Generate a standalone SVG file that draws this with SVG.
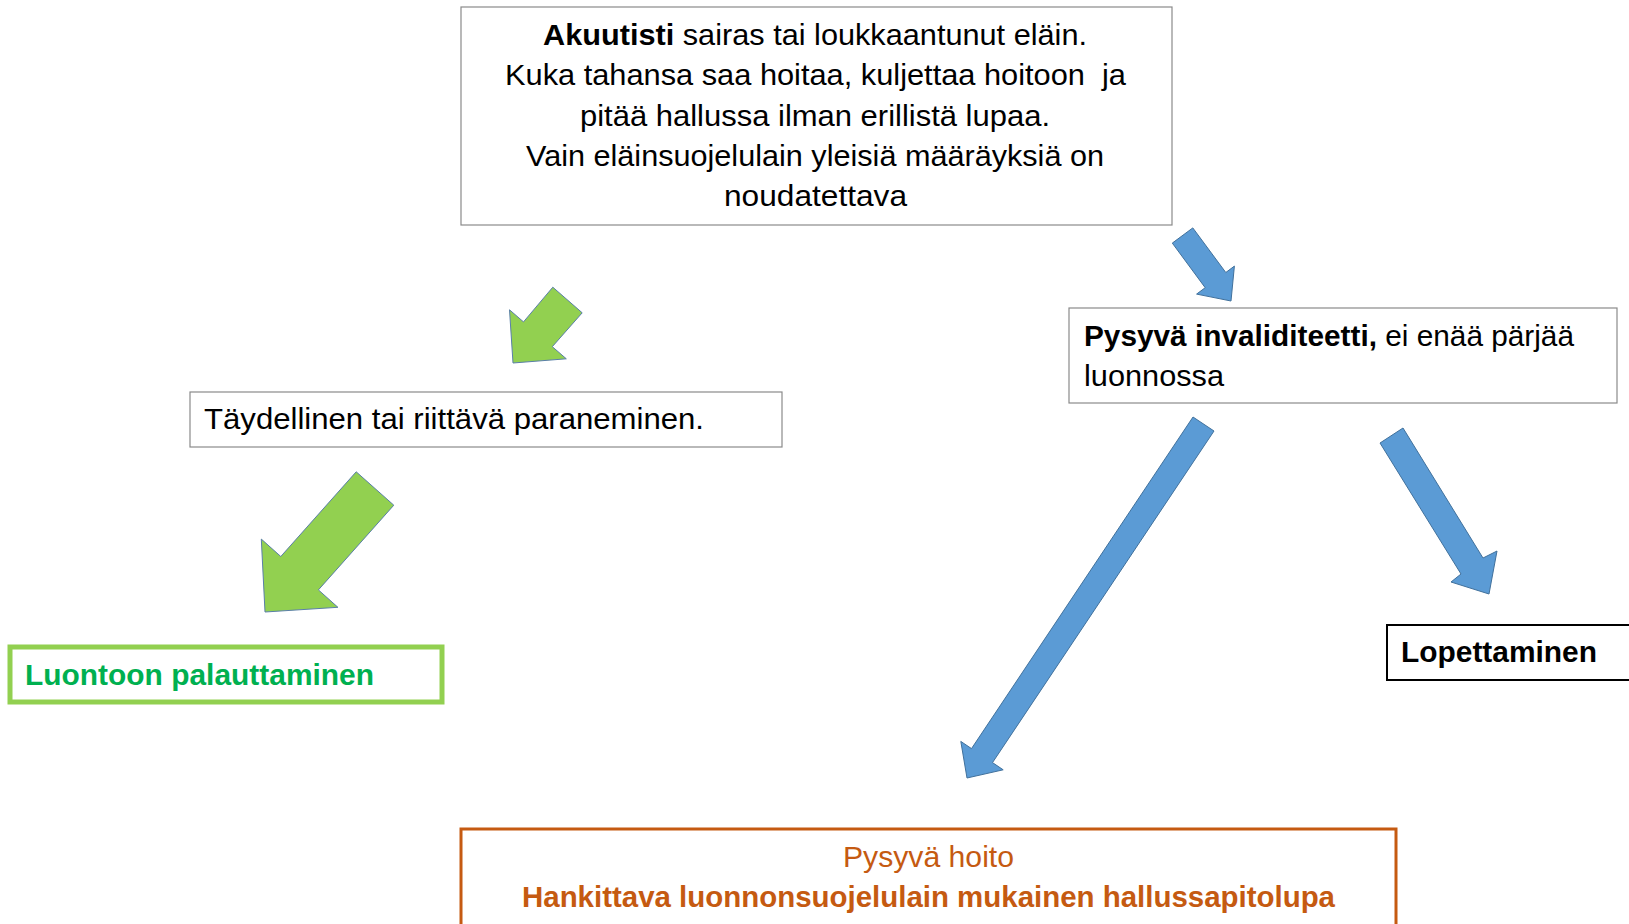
<svg xmlns="http://www.w3.org/2000/svg" width="1629" height="924" viewBox="0 0 1629 924">
<style>
text{font-family:"Liberation Sans",Arial,sans-serif;fill:#000}
.b{font-weight:bold}
.box{fill:#fff;stroke:#8a8a8a;stroke-width:1.2}
.blue{fill:#5B9BD5;stroke:#41719C;stroke-width:1}
.green{fill:#92D050;stroke:#5a7fa8;stroke-width:1}
</style>
<rect width="1629" height="924" fill="#fff"/>
<g id="connectors">
<polygon class="green" points="552.8,287.2 582.2,312.8 552.3,346.7 566.3,358.8 513,363 509.5,309.8 523.5,321.9"/>
<polygon class="green" points="356.2,471.8 393.8,505.2 318.4,589.9 337.9,607.3 265,612 261.3,539.1 280.8,556.5"/>
<polygon class="blue" points="1172.3,243.1 1192.8,227.9 1225.8,272.5 1234.4,266.1 1231,301 1196.6,294.1 1205.2,287.7"/>
<polygon class="blue" points="1193,417 1214,431 992.5,762.6 1003.2,769.8 967,778 960.8,741.4 971.5,748.6"/>
<polygon class="blue" points="1380,443 1403,428 1483,558 1497,551 1489,594 1451,582 1461,574"/>
</g>
<g id="n-akuutisti">
<rect class="box" x="461" y="7" width="711" height="218"/>
<text x="543" y="45" font-size="29" textLength="544" lengthAdjust="spacingAndGlyphs"><tspan class="b">Akuutisti</tspan> sairas tai loukkaantunut eläin.</text>
<text x="505" y="85" font-size="29" textLength="621" lengthAdjust="spacingAndGlyphs">Kuka tahansa saa hoitaa, kuljettaa hoitoon&#160; ja</text>
<text x="580" y="126" font-size="29" textLength="470" lengthAdjust="spacingAndGlyphs">pitää hallussa ilman erillistä lupaa.</text>
<text x="526" y="166" font-size="29" textLength="578" lengthAdjust="spacingAndGlyphs">Vain eläinsuojelulain yleisiä määräyksiä on</text>
<text x="724" y="206" font-size="29" textLength="183" lengthAdjust="spacingAndGlyphs">noudatettava</text>
</g>
<g id="n-taydellinen">
<rect class="box" x="190" y="392" width="592" height="55"/>
<text x="204" y="429" font-size="29" textLength="500" lengthAdjust="spacingAndGlyphs">Täydellinen tai riittävä paraneminen.</text>
</g>
<g id="n-invaliditeetti">
<rect class="box" x="1069" y="308" width="548" height="95"/>
<text x="1084" y="346" font-size="29" textLength="490" lengthAdjust="spacingAndGlyphs"><tspan class="b">Pysyvä invaliditeetti,</tspan> ei enää pärjää</text>
<text x="1084" y="386" font-size="29" textLength="140" lengthAdjust="spacingAndGlyphs">luonnossa</text>
</g>
<g id="n-luontoon">
<rect x="10" y="647" width="432" height="55" fill="#fff" stroke="#92D050" stroke-width="5"/>
<text x="25" y="685" font-size="29" class="b" fill="#00B050" style="fill:#00B050" textLength="349" lengthAdjust="spacingAndGlyphs">Luontoon palauttaminen</text>
</g>
<g id="n-lopettaminen">
<rect x="1387" y="625" width="250" height="55" fill="#fff" stroke="#000" stroke-width="2"/>
<text x="1401" y="662" font-size="29" class="b" textLength="196" lengthAdjust="spacingAndGlyphs">Lopettaminen</text>
</g>
<g id="n-pysyva-hoito">
<rect x="461" y="829" width="935" height="110" fill="#fff" stroke="#C55A11" stroke-width="3"/>
<text x="843" y="867" font-size="29" style="fill:#C55A11" textLength="171" lengthAdjust="spacingAndGlyphs">Pysyvä hoito</text>
<text x="522" y="907" font-size="29" class="b" style="fill:#C55A11" textLength="813" lengthAdjust="spacingAndGlyphs">Hankittava luonnonsuojelulain mukainen hallussapitolupa</text>
</g>
</svg>
